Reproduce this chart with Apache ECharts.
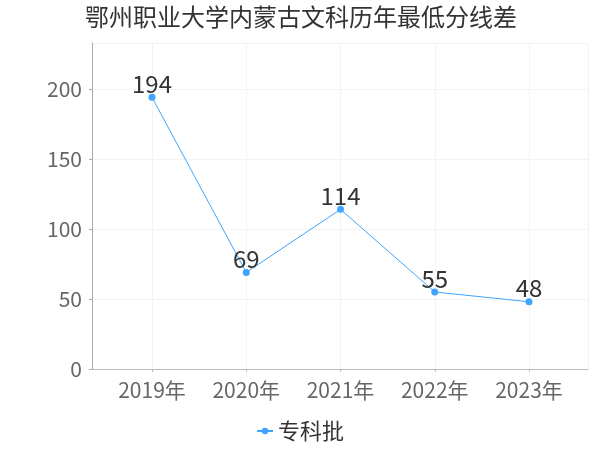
<!DOCTYPE html>
<html>
<head>
<meta charset="utf-8">
<script src="https://cdn.jsdelivr.net/npm/echarts@6/dist/echarts.min.js"></script>
<style>html,body{margin:0;padding:0;background:#fff}#c{width:600px;height:450px}</style>
</head>
<body>
<div id="c"></div>
<script>
var titleText = '鄂州职业大学内蒙古文科历年最低分线差';
var categories = ['2019年', '2020年', '2021年', '2022年', '2023年'];
var seriesName = '专科批';
var values = [194, 69, 114, 55, 48];
var yMax = 232.8;

var FONT = 'Noto Sans CJK SC';
var chart = echarts.init(document.getElementById('c'));
chart.setOption({
  animation: false,
  textStyle: { fontFamily: FONT },
  title: {
    text: titleText, left: 85, top: 5, padding: 0,
    textStyle: { fontSize: 24, fontWeight: 'normal', color: '#333', fontFamily: FONT }
  },
  legend: {
    data: [seriesName], bottom: 3, left: 'center',
    itemWidth: 16, itemHeight: 8, itemGap: 4,
    textStyle: { fontSize: 22, color: '#333', fontFamily: FONT }
  },
  grid: [
    { left: 92, right: 12, top: 43, bottom: 81 },
    { left: 152, right: 71, top: 43, bottom: 81 }
  ],
  xAxis: [
    {
      gridIndex: 0, type: 'value', min: 0, max: 1, interval: 1, offset: 3,
      axisLine: { show: true, lineStyle: { color: '#bbb' } },
      axisTick: { show: false }, axisLabel: { show: false },
      splitLine: { show: true, lineStyle: { color: '#f3f3f3' } }
    },
    {
      gridIndex: 1, type: 'category', data: categories, boundaryGap: false, offset: 3,
      axisLine: { show: false },
      axisTick: { show: true, length: 3, lineStyle: { color: '#bbb' } },
      axisLabel: { fontSize: 21, color: '#666', margin: 8, fontFamily: FONT },
      splitLine: { show: true, lineStyle: { color: '#f3f3f3' } }
    }
  ],
  yAxis: [
    {
      gridIndex: 0, type: 'value', min: 0, max: yMax, interval: 50, offset: 4,
      axisLine: { show: true, lineStyle: { color: '#aaa' } },
      axisTick: { show: true, length: 3, lineStyle: { color: '#aaa' } },
      axisLabel: { fontSize: 21, color: '#666', margin: 6, showMaxLabel: false, fontFamily: FONT },
      splitLine: { show: true, lineStyle: { color: '#f3f3f3' } }
    },
    {
      gridIndex: 1, type: 'value', min: 0, max: yMax, show: false,
      splitLine: { show: false }
    }
  ],
  series: [{
    name: seriesName, type: 'line', xAxisIndex: 1, yAxisIndex: 1,
    data: values,
    symbol: 'circle', symbolSize: 7,
    itemStyle: { color: '#3ea4ff' },
    lineStyle: { width: 1, color: '#3ea4ff' },
    label: { show: true, position: 'top', distance: -2, fontSize: 24, color: '#333', fontFamily: FONT }
  }]
});
</script>
</body>
</html>
